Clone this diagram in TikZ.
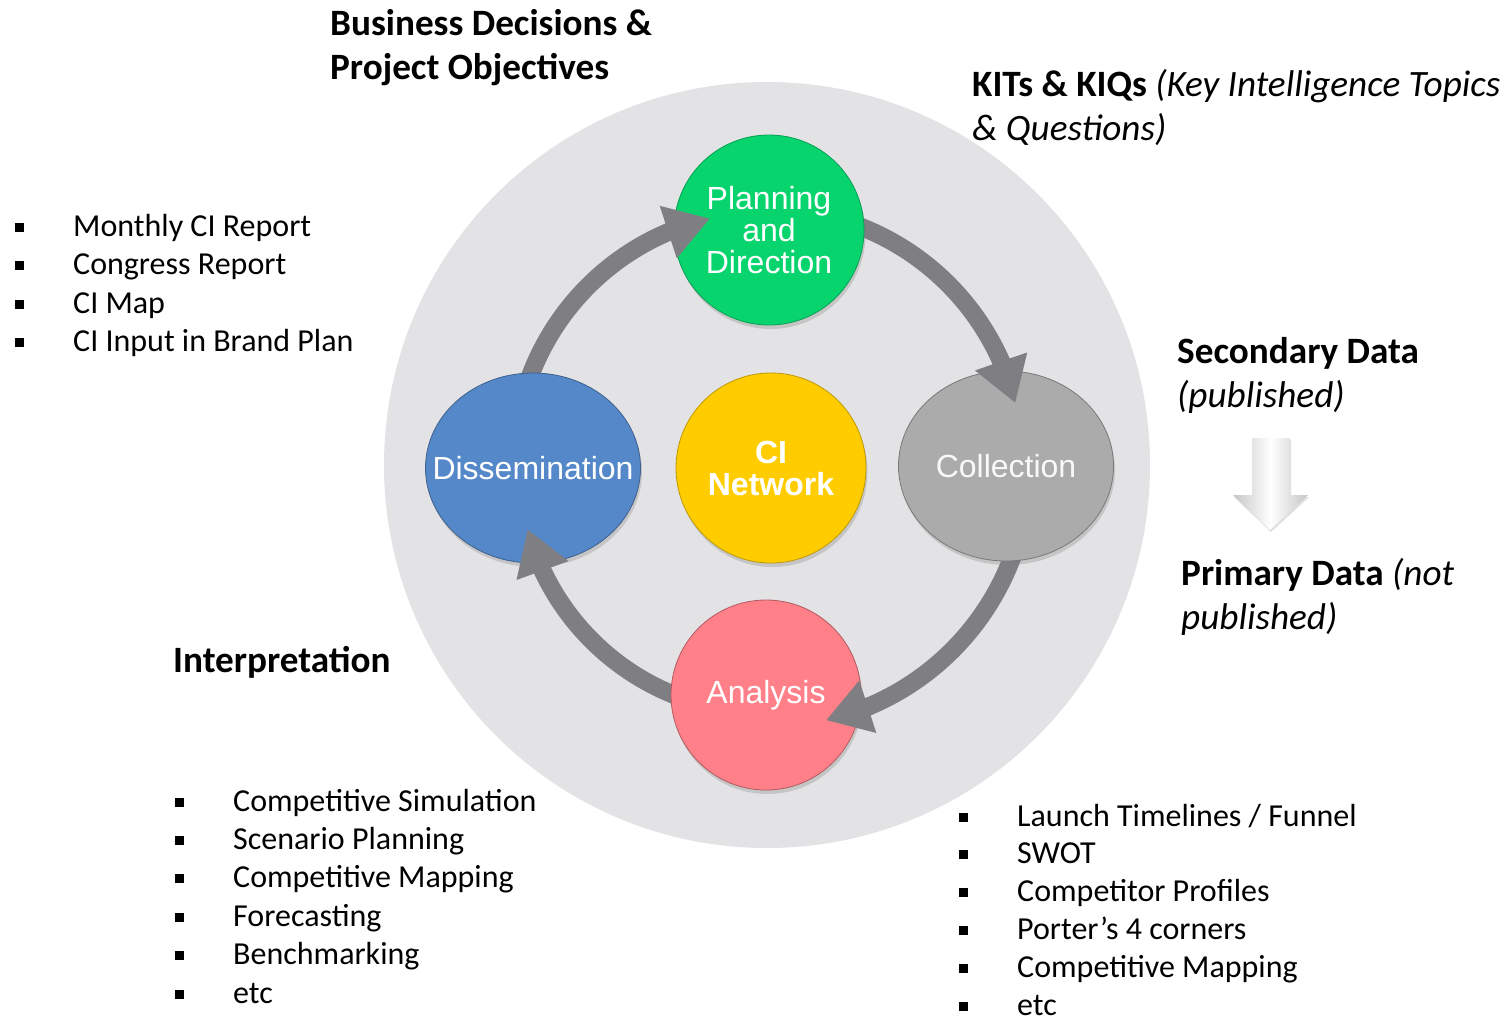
\documentclass[tikz,border=0pt]{standalone}
\usepackage{fontspec}
\setmainfont{Carlito}
\newfontfamily\arialf{Liberation Sans}
\usetikzlibrary{arrows.meta,shapes.geometric,shadows,calc}
\definecolor{ringgray}{HTML}{E3E3E5}
\definecolor{plangreen}{HTML}{08D46E}
\definecolor{netyellow}{HTML}{FFCC00}
\definecolor{dissblue}{HTML}{5588C8}
\definecolor{collgray}{HTML}{ABABAB}
\definecolor{analpink}{HTML}{FF8088}
\definecolor{arrgray}{HTML}{7E7E83}
\newcommand\bulbox{\makebox[58pt][l]{\rule[4.5pt]{9pt}{9pt}}}
\begin{document}
\begin{tikzpicture}[x=1pt,y=1pt,
  ringstyle/.style={circle, minimum size=766pt, inner sep=0, fill=ringgray},
  ball/.style={circle, minimum size=190pt, inner sep=0, align=center, text=white,
    font=\arialf\fontsize{32}{32}\selectfont,
    drop shadow={shadow xshift=1.5pt, shadow yshift=-4pt, opacity=0.3}},
  oval/.style={ellipse, minimum width=215pt, minimum height=190pt},
  shaft/.style={line width=18pt, draw=arrgray},
  head/.style={line width=18pt, draw=arrgray, -{Triangle[width=52pt,length=44pt]}},
  hdr/.style={anchor=base west, inner sep=0, font=\fontsize{37.2}{44}\selectfont},
  item/.style={anchor=base west, inner sep=0, font=\fontsize{32}{38}\selectfont}]
\useasboundingbox (0,-1020) rectangle (1506,0);
\fill[white] (0,-1020) rectangle (1506,0);

% big background circle
\node[ringstyle] (ring) at (767,-465) {};
\coordinate (C) at (767,-465);

% arc points: s = tail (inside source node), b = head base, t = tip
\coordinate (a1s) at ($(C)+(170:253pt)$);
\coordinate (a1b) at ($(C)+(113:253pt)$);
\coordinate (a1t) at ($(C)+(103:253pt)$);
\coordinate (a2s) at ($(C)+(80:256pt)$);
\coordinate (a2b) at ($(C)+(24:256pt)$);
\coordinate (a2t) at ($(C)+(14:256pt)$);
\coordinate (a3s) at ($(C)+(-10:262pt)$);
\coordinate (a3b) at ($(C)+(-67:262pt)$);
\coordinate (a3t) at ($(C)+(-77:262pt)$);
\coordinate (a4s) at ($(C)+(260:248pt)$);
\coordinate (a4b) at ($(C)+(205:248pt)$);
\coordinate (a4t) at ($(C)+(195:248pt)$);

% connector shafts (behind the nodes)
\draw[shaft] (a1s) arc[start angle=170, end angle=111, radius=253pt];
\draw[shaft] (a2s) arc[start angle=80, end angle=22, radius=256pt];
\draw[shaft] (a3s) arc[start angle=-10, end angle=-69, radius=262pt];
\draw[shaft] (a4s) arc[start angle=260, end angle=203, radius=248pt];

% cycle nodes
\node[ball, fill=plangreen, draw=plangreen!75!black, line width=0.8pt] (plan) at (769,-230) {Planning\\and\\Direction};
\node[ball, oval, fill=dissblue, draw=dissblue!70!black, line width=0.8pt] (diss) at (533,-468) {\makebox[0pt]{Dissemination}};
\node[ball, fill=netyellow, draw=netyellow!75!black, line width=0.8pt, font=\arialf\bfseries\fontsize{32}{32}\selectfont] (net) at (771,-468) {CI\\Network};
\node[ball, oval, fill=collgray, draw=collgray!70!black, line width=0.8pt, text=white!95!gray] (coll) at (1006,-466) {\makebox[0pt]{Collection}};
\node[ball, fill=analpink, draw=analpink!70!black, line width=0.8pt] (anal) at (766,-695) {Analysis};

% arrow heads drawn over the target nodes
\draw[head] (a1b) -- (a1t);
\draw[head] (a2b) -- (a2t);
\draw[head] (a3b) -- (a3t);
\draw[head] (a4b) -- (a4t);

% headings
\node[hdr] (bd1) at (330,-35) {\bfseries Business Decisions \&};
\node[hdr] (bd2) at (330,-79) {\bfseries Project Objectives};
\node[hdr] (kit1) at (972,-96) {\bfseries KITs \& KIQs \mdseries\itshape(Key Intelligence Topics};
\node[hdr] (kit2) at (972,-140) {\itshape\& Questions)};
\node[hdr] (sec1) at (1177,-363) {\bfseries Secondary Data};
\node[hdr] (sec2) at (1177,-407) {\itshape (published)};
\node[hdr] (pri1) at (1181,-585) {\bfseries Primary Data \mdseries\itshape(not};
\node[hdr] (pri2) at (1181,-629) {\itshape published)};
\node[hdr] (interp) at (173,-672) {\bfseries Interpretation};

% secondary -> primary arrow
\path[drop shadow={shadow xshift=1pt, shadow yshift=-2pt, opacity=0.25},
  left color=gray!45, right color=gray!45, middle color=white]
  (1252,-438) -- (1290,-438) -- (1290,-495) -- (1308,-495) -- (1270,-530)
  -- (1233,-495) -- (1252,-495) -- cycle;

% bullet lists
\foreach \t [count=\i] in {Monthly CI Report, Congress Report, CI Map, CI Input in Brand Plan}
  \node[item] (la\i) at (15,{-236-38.5*(\i-1)}) {\bulbox\t};
\foreach \t [count=\i] in {Competitive Simulation, Scenario Planning, Competitive Mapping, Forecasting, Benchmarking, etc}
  \node[item] (lb\i) at (175,{-811-38.4*(\i-1)}) {\bulbox\t};
\foreach \t [count=\i] in {Launch Timelines / Funnel, SWOT, Competitor Profiles, Porter’s 4 corners, Competitive Mapping, etc}
  \node[item] (lc\i) at (959,{-826-37.8*(\i-1)}) {\bulbox\t};
\end{tikzpicture}
\end{document}
